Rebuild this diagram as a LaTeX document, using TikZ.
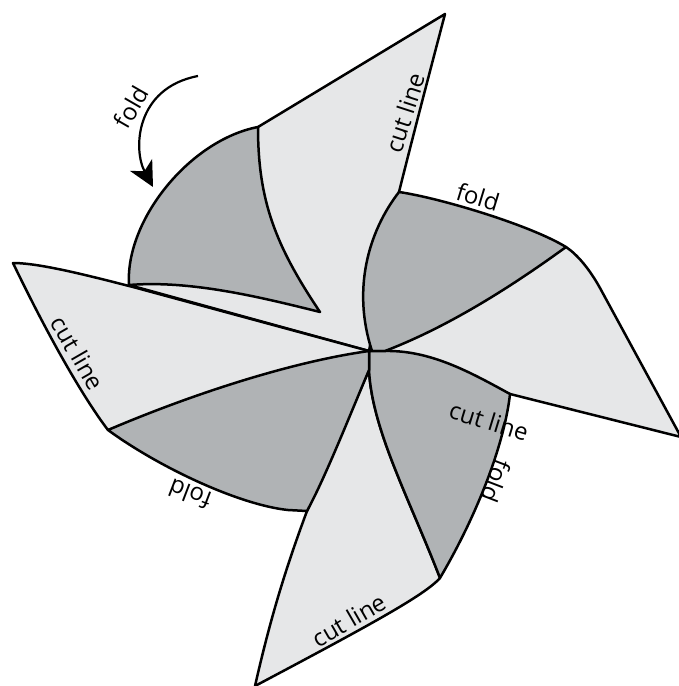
\documentclass[tikz,border=0pt]{standalone}
\usepackage{fontspec}
\setmainfont{Open Sans}
\usetikzlibrary{arrows.meta}
\definecolor{PaperLight}{RGB}{230,231,232}
\definecolor{PaperDark}{RGB}{176,179,181}
\tikzset{
  lightpart/.style={draw=black,fill=PaperLight,line width=2.5pt,line join=round},
  darkpart/.style={draw=black,fill=PaperDark,line width=2.5pt,line join=round},
  foldarrow/.style={-{Stealth[length=25pt,width=25pt,inset=7pt]},draw=black,line width=2.2pt},
  tag/.style={font=\fontsize{24}{24}\selectfont,inner sep=0pt}
}
\begin{document}
\begin{tikzpicture}[x=1pt,y=-1pt]
  \useasboundingbox (0,0) rectangle (679,686);
  \coordinate (hub) at (369,351);
  \coordinate (stem) at (369,370);
  \coordinate (flaptop) at (258,127);
  \coordinate (flapleft) at (129,285);
  \coordinate (flaptip) at (320,312);
  \coordinate (topblade) at (445,14);
  \coordinate (topfold) at (399,192);
  \coordinate (rightfold) at (566,247);
  \coordinate (rightblade) at (681,437);
  \coordinate (rightcut) at (510,394);
  \coordinate (lowfold) at (440,578);
  \coordinate (lowblade) at (255,686);
  \coordinate (leftfold) at (307,511);
  \coordinate (leftcut) at (108,430);
  \coordinate (leftblade) at (13,263);

  % blades
  \draw[lightpart] (flaptop) -- (topblade) .. controls (425,90) and (412,140) .. (topfold)
    -- (hub) -- (flapleft) -- cycle;
  \draw[lightpart] (rightfold) .. controls (578,255) and (590,270) .. (600,288)
    -- (rightblade) -- (rightcut) -- (hub) -- cycle;
  \draw[lightpart] (stem) .. controls (372,430) and (410,500) .. (lowfold)
    .. controls (425,595) and (370,625) .. (lowblade)
    .. controls (270,620) and (285,570) .. (leftfold) -- cycle;
  \draw[lightpart] (leftblade) .. controls (50,340) and (85,400) .. (leftcut)
    -- (hub) -- (133,287) .. controls (90,276) and (40,263) .. cycle;

  % folded parts
  \draw[darkpart] (topfold) .. controls (440,198) and (530,225) .. (rightfold)
    .. controls (500,295) and (440,330) .. (385,351) -- (372,351)
    .. controls (352,290) and (368,232) .. cycle;
  \draw[darkpart] (hub) -- (385,351) .. controls (430,350) and (470,372) .. (rightcut)
    .. controls (505,440) and (480,510) .. (lowfold)
    .. controls (410,500) and (372,430) .. (stem) -- cycle;
  \draw[darkpart] (leftcut) .. controls (160,468) and (240,505) .. (288,510) -- (leftfold)
    .. controls (325,478) and (350,415) .. (stem) -- (hub)
    .. controls (290,362) and (190,395) .. cycle;
  \draw[darkpart] (flaptop) .. controls (190,140) and (125,220) .. (flapleft)
    .. controls (190,280) and (260,297) .. (flaptip)
    .. controls (275,245) and (258,200) .. cycle;

  \coordinate (arrowstart) at (198,76);
  \coordinate (arrowend) at (153,187);
  \draw[foldarrow] (arrowstart) .. controls (135,88) and (133,150) .. (arrowend);

  \node[tag,rotate=60] (foldflap) at (131,107) {fold};
  \node[tag,rotate=-17] (foldtop) at (478,197) {fold};
  \node[tag,rotate=-111] (foldright) at (496,481) {fold};
  \node[tag,rotate=159] (foldleft) at (190,494) {fold};
  \node[tag,rotate=72] (cuttop) at (405,113) {cut line};
  \node[tag,rotate=-17] (cutright) at (489,421) {cut line};
  \node[tag,rotate=30] (cutlow) at (349,620) {cut line};
  \node[tag,rotate=-60] (cutleft) at (78,353) {cut line};
\end{tikzpicture}
\end{document}
